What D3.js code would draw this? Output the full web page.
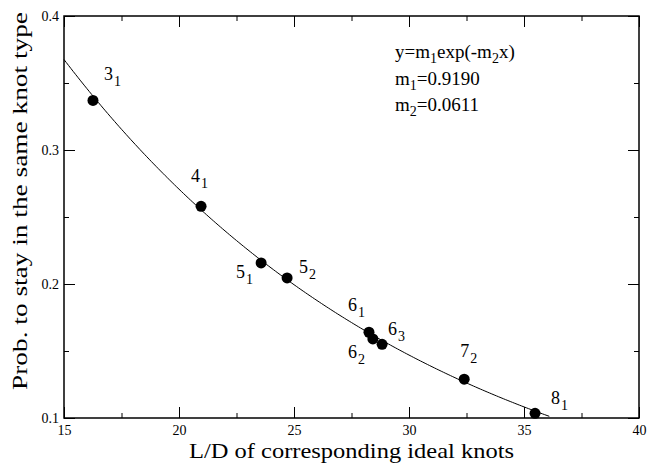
<!DOCTYPE html>
<html>
<head>
<meta charset="utf-8">
<script src="https://cdn.jsdelivr.net/npm/d3@7"></script>
<style>
  body { margin: 0; background: #fff; }
  svg { display: block; font-family: "Liberation Serif", "Times New Roman", serif; }
</style>
</head>
<body>
<div id="chart"></div>
<script>
// knot types: main number + subscript
const knotNames = ["3", "4", "5", "5", "6", "6", "6", "7", "8"];
const knotSubs = ["1", "1", "1", "2", "1", "2", "3", "2", "1"];
const ldValues = [16.26, 20.96, 23.57, 24.70, 28.26, 28.43, 28.83, 32.40, 35.48];
const probValues = [0.337, 0.258, 0.2157, 0.2045, 0.164, 0.159, 0.155, 0.129, 0.1035];

const xTicks = [15, 20, 25, 30, 35, 40];
const xMinor = [17.5, 22.5, 27.5, 32.5, 37.5];
const yTicks = [0.1, 0.2, 0.3, 0.4];
const yMinor = [0.15, 0.25, 0.35];

// fit y = m1 exp(-m2 x)
const m1 = 0.9190;
const m2 = 0.0611;
const fitRange = [15, 36.1];

// label offsets (px) from each point
const labelDx = [11, -10, -25, 12, -21, -25, 6, -4, 16];
const labelDy = [-20, -24, 15, -5, -21, 19, -9, -22, -9];

const width = 649;
const height = 464;
const marginTop = 16;
const marginRight = 10;
const marginBottom = 46;
const marginLeft = 64;

const x = d3.scaleLinear()
    .domain([15, 40])
    .range([marginLeft, width - marginRight]);
const y = d3.scaleLinear()
    .domain([0.1, 0.4])
    .range([height - marginBottom, marginTop]);

const svg = d3.select("#chart")
    .append("svg")
        .attr("width", width)
        .attr("height", height);

const major = 11, minor = 5;

function styleAxis(g) {
    g.attr("font-family", null).attr("font-size", null);
    g.select(".domain").remove();
    g.selectAll(".tick line").attr("stroke", "#000").attr("stroke-width", 1);
    g.selectAll(".tick text")
        .attr("fill", "#000")
        .style("font-size", "14px");
}

// x axis
svg.append("g")
    .attr("transform", `translate(0,${y(0.1)})`)
    .call(d3.axisBottom(x).tickValues(xTicks).tickSize(-major).tickPadding(7).tickFormat(d3.format("d")))
    .call(styleAxis);
svg.append("g")
    .attr("transform", `translate(0,${y(0.1)})`)
    .call(d3.axisBottom(x).tickValues(xMinor).tickSize(-minor).tickFormat(""))
    .call(styleAxis);
svg.append("g")
    .attr("transform", `translate(0,${y(0.4)})`)
    .call(d3.axisTop(x).tickValues(xTicks).tickSize(-major).tickFormat(""))
    .call(styleAxis);
svg.append("g")
    .attr("transform", `translate(0,${y(0.4)})`)
    .call(d3.axisTop(x).tickValues(xMinor).tickSize(-minor).tickFormat(""))
    .call(styleAxis);

// y axis
svg.append("g")
    .attr("transform", `translate(${x(15)},0)`)
    .call(d3.axisLeft(y).tickValues(yTicks).tickSize(-major).tickPadding(5).tickFormat(d3.format(".1f")))
    .call(styleAxis);
svg.append("g")
    .attr("transform", `translate(${x(15)},0)`)
    .call(d3.axisLeft(y).tickValues(yMinor).tickSize(-minor).tickFormat(""))
    .call(styleAxis);
svg.append("g")
    .attr("transform", `translate(${x(40)},0)`)
    .call(d3.axisRight(y).tickValues(yTicks).tickSize(-major).tickFormat(""))
    .call(styleAxis);
svg.append("g")
    .attr("transform", `translate(${x(40)},0)`)
    .call(d3.axisRight(y).tickValues(yMinor).tickSize(-minor).tickFormat(""))
    .call(styleAxis);

// frame
svg.append("rect")
    .attr("x", x(15))
    .attr("y", y(0.4))
    .attr("width", x(40) - x(15))
    .attr("height", y(0.1) - y(0.4))
    .attr("fill", "none")
    .attr("stroke", "#000")
    .attr("stroke-width", 1.5);

// fit curve
const fitX = d3.range(fitRange[0], fitRange[1], 0.1).concat([fitRange[1]]);
const line = d3.line()
    .x(d => x(d))
    .y(d => y(m1 * Math.exp(-m2 * d)));
svg.append("path")
    .datum(fitX)
    .attr("d", line)
    .attr("fill", "none")
    .attr("stroke", "#000")
    .attr("stroke-width", 1);

// points
svg.append("g")
    .selectAll("circle")
    .data(ldValues)
    .join("circle")
        .attr("cx", d => x(d))
        .attr("cy", (d, i) => y(probValues[i]))
        .attr("r", 5.5)
        .attr("fill", "#000");

// knot labels
const labels = svg.append("g")
    .selectAll("text")
    .data(ldValues)
    .join("text")
        .attr("x", (d, i) => x(d) + labelDx[i])
        .attr("y", (d, i) => y(probValues[i]) + labelDy[i])
        .style("font-size", "18px");
labels.append("tspan").text((d, i) => knotNames[i]);
labels.append("tspan")
    .attr("dy", 6)
    .attr("dx", 1)
    .style("font-size", "14px")
    .text((d, i) => knotSubs[i]);

// fit formula
const fx = 395;
function formulaLine(yPos) {
    return svg.append("text").attr("x", fx).attr("y", yPos).style("font-size", "19px");
}
function sub(t, s) {
    t.append("tspan").attr("dy", 5).style("font-size", "14px").text(s);
}
const f1 = formulaLine(58);
f1.append("tspan").text("y=m");
sub(f1, "1");
f1.append("tspan").attr("dy", -5).text("exp(-m");
sub(f1, "2");
f1.append("tspan").attr("dy", -5).text("x)");

const f2 = formulaLine(85);
f2.append("tspan").text("m");
sub(f2, "1");
f2.append("tspan").attr("dy", -5).text("=" + m1.toFixed(4));

const f3 = formulaLine(111);
f3.append("tspan").text("m");
sub(f3, "2");
f3.append("tspan").attr("dy", -5).text("=" + m2.toFixed(4));

// axis titles
svg.append("text")
    .attr("x", (x(15) + x(40)) / 2)
    .attr("y", 458)
    .attr("text-anchor", "middle")
    .attr("textLength", 325)
    .attr("lengthAdjust", "spacingAndGlyphs")
    .style("font-size", "22px")
    .text("L/D of corresponding ideal knots");

svg.append("text")
    .attr("transform", "translate(27,201) rotate(-90)")
    .attr("text-anchor", "middle")
    .attr("textLength", 378)
    .attr("lengthAdjust", "spacingAndGlyphs")
    .style("font-size", "22px")
    .text("Prob. to stay in the same knot type");
</script>
</body>
</html>
